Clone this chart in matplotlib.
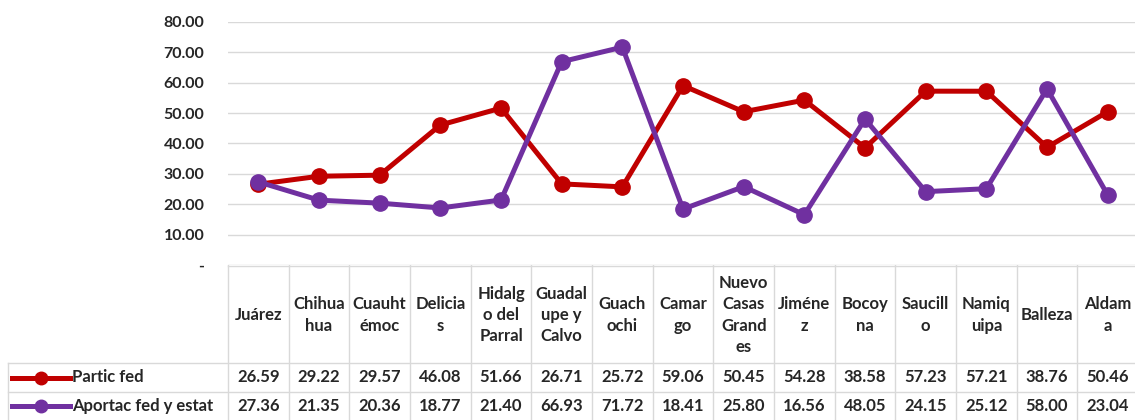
import matplotlib.pyplot as plt
import numpy as np

categories = ["Juárez", "Chihua\nhua", "Cuauht\némoc", "Delicia\ns", "Hidalg\no del\nParral",
              "Guadal\nupe y\nCalvo", "Guach\nochi", "Camar\ngo", "Nuevo\nCasas\nGrand\nes",
              "Jiméne\nz", "Bocoy\nna", "Saucill\no", "Namiq\nuipa", "Balleza", "Aldam\na"]
partic_fed = [26.59, 29.22, 29.57, 46.08, 51.66, 26.71, 25.72, 59.06, 50.45, 54.28,
              38.58, 57.23, 57.21, 38.76, 50.46]
aportac = [27.36, 21.35, 20.36, 18.77, 21.40, 66.93, 71.72, 18.41, 25.80, 16.56,
           48.05, 24.15, 25.12, 58.00, 23.04]
series_names = ["Partic fed", "Aportac fed y estat"]
colors = ["#C00000", "#7030A0"]
yticks = [0, 10, 20, 30, 40, 50, 60, 70, 80]

plt.rcParams['font.family'] = ['Lato', 'DejaVu Sans']
W, H = 1135, 420
fig = plt.figure(figsize=(W / 100, H / 100), dpi=100)

# plot area geometry in pixels
x0, colw = 228, 60.67
n = len(categories)
y80, y0 = 22, 265
ax = fig.add_axes([x0 / W, (H - y0) / H, n * colw / W, (y0 - y80) / H])
x = np.arange(n)
for vals, c in zip([partic_fed, aportac], colors):
    ax.plot(x, vals, color=c, lw=3.6, marker='o', ms=11, solid_joinstyle='round')
ax.set_xlim(-0.5, n - 0.5)
ax.set_ylim(0, 80)
ax.set_yticks(yticks)
ax.set_yticklabels(['-' if v == 0 else f"{v:.2f}" for v in yticks],
                   fontsize=11.5, fontweight='bold', color='#262626')
ax.tick_params(axis='y', length=0, pad=17)
ax.set_xticks([])
ax.grid(axis='y', color='#D9D9D9', lw=1)
ax.set_axisbelow(True)
for s in ax.spines.values():
    s.set_visible(False)

# data table below the plot
tab = fig.add_axes([0, 0, (x0 + n * colw) / W, (H - y0) / H])
tab.set_xlim(-0.5 - x0 / colw, n - 0.5)
tab.set_ylim(H - y0, 0)
tab.axis('off')
hdr, r1 = 98, 127
bottom = H - y0
gc = '#D9D9D9'
fs = 12
left = -0.5 - (x0 - 8) / colw
for i in range(n + 1):
    tab.plot([i - 0.5, i - 0.5], [0, bottom], color=gc, lw=1)
tab.plot([-0.5, n - 0.5], [0.5, 0.5], color=gc, lw=1)
for yy in [hdr, r1]:
    tab.plot([left, n - 0.5], [yy, yy], color=gc, lw=1)
tab.plot([left, left], [hdr, bottom], color=gc, lw=1)

for i, cat in enumerate(categories):
    tab.text(i, hdr / 2 + 1, cat, ha='center', va='center', fontsize=fs,
             fontweight='bold', color='#262626', linespacing=1.42)

rows = [partic_fed, aportac]
row_mid = [(hdr + r1) / 2, (r1 + bottom) / 2]
for vals, ym, name, c in zip(rows, row_mid, series_names, colors):
    for i, v in enumerate(vals):
        tab.text(i, ym, f"{v:.2f}", ha='center', va='center', fontsize=fs,
                 fontweight='bold', color='#262626')
    lx0 = left + 4 / colw
    lx1 = left + 62 / colw
    tab.plot([lx0, lx1], [ym, ym], color=c, lw=3.6)
    tab.plot([(lx0 + lx1) / 2], [ym], color=c, marker='o', ms=9)
    tab.text(lx1 + 2 / colw, ym, name, ha='left', va='center', fontsize=fs,
             fontweight='bold', color='#262626')

fig.savefig('out.png', dpi=100)
